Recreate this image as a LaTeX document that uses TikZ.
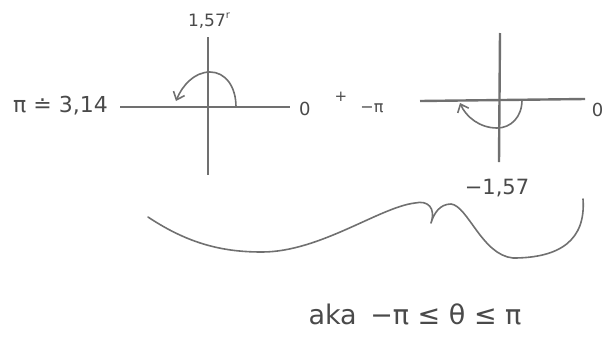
\documentclass[tikz,border=0pt]{standalone}
\usepackage{fontspec}
\setmainfont{DejaVu Sans}
\usetikzlibrary{arrows.meta}
\definecolor{ink}{HTML}{707070}
\definecolor{txt}{HTML}{4A4A4A}
\begin{document}
\begin{tikzpicture}[x=1pt,y=-1pt,
  axis/.style={draw=ink, line width=2.4pt},
  curve/.style={draw=ink, line width=1.6pt, line cap=round, line join=round},
  barb/.style={-{Straight Barb[length=7pt,width=12pt,line width=1.6pt]}},
  lbl/.style={text=txt, inner sep=0pt, font=\fontsize{18}{22}\selectfont},
  big/.style={text=txt, inner sep=0pt, font=\fontsize{27}{30}\selectfont}]
\useasboundingbox (0,0) rectangle (604,346);
% left axes
\coordinate (LW) at (120,107); \coordinate (LE) at (290,107);
\coordinate (LN) at (208,37);  \coordinate (LS) at (208,175);
\draw[axis] (LW) -- (LE);
\draw[axis] (LN) -- (LS);
\coordinate (LA1) at (236,107); \coordinate (LAT) at (210,72); \coordinate (LA2) at (176,101);
\draw[curve,barb] (LA1) .. controls (236,86) and (225,72) .. (LAT) .. controls (194,72) and (182,86) .. (LA2);
\node[lbl,anchor=east,font=\fontsize{22}{26}\selectfont] (pi) at (108,106) {π ≐ 3,14};
\node[lbl,anchor=west] (zeroL) at (299,109) {0};
\node[lbl,font=\fontsize{17}{20}\selectfont] (top) at (209,21) {1,57\raisebox{0.45em}{\fontsize{10}{12}\selectfont r}};
% middle
\node[lbl,font=\fontsize{15}{18}\selectfont] (plus) at (341,97) {+};
\node[lbl,font=\fontsize{16}{20}\selectfont] (mpi) at (372,108) {−π};
% right axes
\coordinate (RW) at (420,101); \coordinate (RE) at (585,99);
\coordinate (RN) at (500,33);  \coordinate (RS) at (499,162);
\draw[axis] (RW) -- (RE);
\draw[axis] (RN) -- (RS);
\coordinate (RA1) at (522,100); \coordinate (RAB) at (497,128); \coordinate (RA2) at (460,103);
\draw[curve,barb] (RA1) .. controls (522,117) and (511,128) .. (RAB) .. controls (480,128) and (466,117) .. (RA2);
\node[lbl,anchor=east] (zeroR) at (603.5,110) {0};
\node[lbl,font=\fontsize{21}{24}\selectfont] (bot) at (497,188) {−1,57};
% brace
\coordinate (B1) at (148,217); \coordinate (B2) at (262,252); \coordinate (B3) at (415,203);
\coordinate (B4) at (431,223); \coordinate (B6) at (451,204);
\coordinate (B7) at (513,258); \coordinate (B8) at (583,199);
\draw[curve] (B1) .. controls (190,245) and (225,252) .. (B2)
  .. controls (320,252) and (380,207) .. (B3)
  .. controls (428,200) and (436,208) .. (B4)
  .. controls (434,213) and (440,204) .. (B6)
  .. controls (468,206) and (482,255) .. (B7)
  .. controls (560,258) and (586,240) .. (B8);
% bottom text
\node[big] (aka) at (415,314) {aka\enspace −π ≤ θ ≤ π};
\end{tikzpicture}
\end{document}
